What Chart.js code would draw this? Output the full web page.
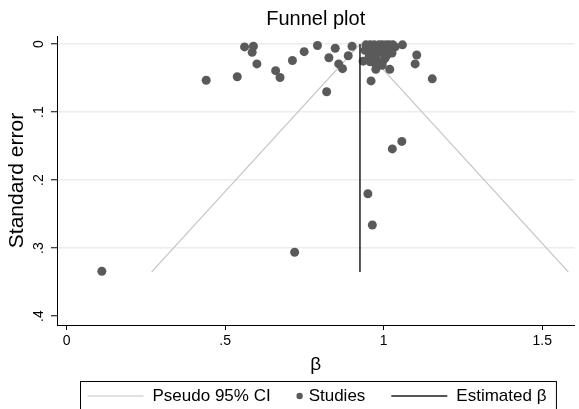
<!DOCTYPE html>
<html>
<head>
<meta charset="utf-8">
<script src="https://cdn.jsdelivr.net/npm/chart.js@4.4.1/dist/chart.umd.min.js"></script>
<style>
  body { margin: 0; background: #fff; }
  #wrap { width: 579px; height: 409px; }
</style>
</head>
<body>
<div id="wrap"><canvas id="funnelChart"></canvas></div>
<script>
// study estimates (beta) and their standard errors
const studyBeta = [
    0.561, 0.589, 0.585, 0.600, 0.440, 0.538, 0.659, 0.673, 0.712, 0.749,
    0.791, 0.847, 0.827, 0.820, 0.858, 0.870, 0.888, 0.900,
    0.935, 0.941, 0.944, 0.954, 0.957, 0.966, 0.970, 0.976, 0.979, 0.985,
    0.992, 0.995, 1.001, 1.004, 1.007, 1.013, 1.017, 1.023, 1.029, 1.036,
    0.973, 0.995, 0.957, 1.010, 1.026,
    0.960, 0.975, 1.019, 0.996, 1.059, 1.104, 1.099, 1.153,
    1.057, 1.027, 0.950, 0.964, 0.719, 0.111
];
const studySE = [
    0.004, 0.003, 0.012, 0.029, 0.053, 0.048, 0.039, 0.049, 0.024, 0.011,
    0.002, 0.006, 0.020, 0.070, 0.029, 0.036, 0.017, 0.003,
    0.025, 0.009, 0.001, 0.018, 0.001, 0.009, 0.001, 0.019, 0.004, 0.001,
    0.012, 0.001, 0.004, 0.021, 0.001, 0.010, 0.001, 0.006, 0.001, 0.004,
    0.028, 0.031, 0.026, 0.016, 0.013,
    0.054, 0.037, 0.037, 0.026, 0.001, 0.016, 0.029, 0.051,
    0.143, 0.154, 0.220, 0.266, 0.306, 0.334
];

// pseudo 95% CI limits and the pooled estimate
const ciBeta = [0.268, 0.925, 1.582];
const ciSE = [0.335, 0, 0.335];
const estBeta = [0.925, 0.925];
const estSE = [0, 0.335];

// axis ticks
const xTickValues = [0, 0.5, 1, 1.5];
const xTickLabels = ['0', '.5', '1', '1.5'];
const yTickValues = [0, 0.1, 0.2, 0.3, 0.4];
const yTickLabels = ['0', '.1', '.2', '.3', '.4'];

const FONT = '"Liberation Sans", Arial, sans-serif';

function toPoints(xs, ys) {
    return xs.map((x, i) => ({ x: x, y: ys[i] }));
}

// Stata style legend: a framed row of items under the x axis
const boxLegend = {
    id: 'boxLegend',
    afterDraw(chart) {
        const ctx = chart.ctx;
        const area = chart.chartArea;
        ctx.save();
        ctx.font = '17px ' + FONT;
        const items = chart.data.datasets.map(ds => ({
            label: ds.label,
            line: !!ds.showLine,
            color: ds.showLine ? ds.borderColor : ds.backgroundColor,
            lw: ds.borderWidth,
            tw: ctx.measureText(ds.label).width
        }));
        const padL = 7, padR = 10, gapItem = 26;
        let total = padL + padR;
        items.forEach((it, i) => {
            it.sw = it.line ? 56 : 6;
            it.gap = it.line ? 9 : 6;
            total += it.sw + it.gap + it.tw + (i > 0 ? gapItem : 0);
        });
        const cx = (area.left + area.right) / 2 + 2;
        const left = Math.round(cx - total / 2) + 0.5;
        const top = 381.5;
        const midY = 396;
        ctx.strokeStyle = '#000';
        ctx.lineWidth = 1;
        ctx.strokeRect(left, top, total, 60);
        let x = left + padL;
        items.forEach((it, i) => {
            if (i > 0) x += gapItem;
            if (it.line) {
                ctx.strokeStyle = it.color;
                ctx.lineWidth = it.lw;
                ctx.beginPath();
                ctx.moveTo(x, midY);
                ctx.lineTo(x + it.sw, midY);
                ctx.stroke();
            } else {
                ctx.fillStyle = it.color;
                ctx.beginPath();
                ctx.arc(x + 3, midY, 3.2, 0, Math.PI * 2);
                ctx.fill();
            }
            x += it.sw + it.gap;
            ctx.fillStyle = '#000';
            ctx.textBaseline = 'middle';
            ctx.textAlign = 'left';
            ctx.fillText(it.label, x, midY);
            x += it.tw;
        });
        ctx.restore();
    }
};

const ctx = document.getElementById('funnelChart').getContext('2d');
const funnelChart = new Chart(ctx, {
    type: 'scatter',
    data: {
        datasets: [{
            label: 'Pseudo 95% CI',
            data: toPoints(ciBeta, ciSE),
            showLine: true,
            borderColor: '#c4c4c4',
            backgroundColor: '#c4c4c4',
            borderWidth: 1.2,
            pointRadius: 0,
            order: 2
        },
        {
            label: 'Studies',
            data: toPoints(studyBeta, studySE),
            showLine: false,
            backgroundColor: '#5a5a5a',
            borderColor: '#5a5a5a',
            borderWidth: 0,
            pointRadius: 4.5,
            order: 1
        },
        {
            label: 'Estimated β',
            data: toPoints(estBeta, estSE),
            showLine: true,
            borderColor: '#1e1e1e',
            backgroundColor: '#1e1e1e',
            borderWidth: 1.5,
            pointRadius: 0,
            order: 0
        }]
    },
    options: {
        responsive: true,
        maintainAspectRatio: false,
        animation: false,
        layout: {
            padding: { left: 0, right: 3, top: 0, bottom: 0 }
        },
        plugins: {
            legend: { display: false },
            tooltip: { enabled: false },
            title: {
                display: true,
                fullSize: false, // center over the plot region, not the canvas
                text: 'Funnel plot',
                color: '#000',
                font: { family: FONT, size: 20, weight: 'normal' },
                padding: { top: 7, bottom: 5 }
            }
        },
        scales: {
            x: {
                type: 'linear',
                position: 'bottom',
                min: -0.0305,
                max: 1.6016,
                afterFit: s => { s.height = 84; },
                afterBuildTicks: s => { s.ticks = xTickValues.map(v => ({ value: v })); },
                ticks: {
                    autoSkip: false,
                    maxRotation: 0,
                    padding: 3,
                    color: '#000',
                    font: { family: FONT, size: 14 },
                    callback: (v, i) => xTickLabels[i]
                },
                grid: {
                    drawOnChartArea: false,
                    tickLength: 5,
                    tickColor: '#000',
                    tickWidth: 1
                },
                border: { color: '#000', width: 1 },
                title: {
                    display: true,
                    text: 'β',
                    color: '#000',
                    font: { family: FONT, size: 19 },
                    padding: { top: 0, bottom: 33 }
                }
            },
            y: {
                type: 'linear',
                position: 'left',
                reverse: true, // standard error grows downwards
                min: -0.012,
                max: 0.413,
                afterFit: s => { s.width = 57; },
                afterBuildTicks: s => { s.ticks = yTickValues.map(v => ({ value: v })); },
                ticks: {
                    autoSkip: false,
                    minRotation: 90,
                    maxRotation: 90,
                    crossAlign: 'center',
                    padding: 6,
                    color: '#000',
                    font: { family: FONT, size: 14 },
                    callback: (v, i) => yTickLabels[i]
                },
                grid: {
                    color: c => (c.tick && c.tick.value === 0.4) ? 'rgba(0,0,0,0)' : '#ececec',
                    lineWidth: 1.5,
                    tickLength: 6,
                    tickColor: '#000',
                    tickWidth: 1
                },
                border: { color: '#000', width: 1 },
                title: {
                    display: true,
                    text: 'Standard error',
                    color: '#000',
                    font: { family: FONT, size: 21 },
                    padding: { top: 5, bottom: 0 }
                }
            }
        }
    },
    plugins: [boxLegend]
});
</script>
</body>
</html>
